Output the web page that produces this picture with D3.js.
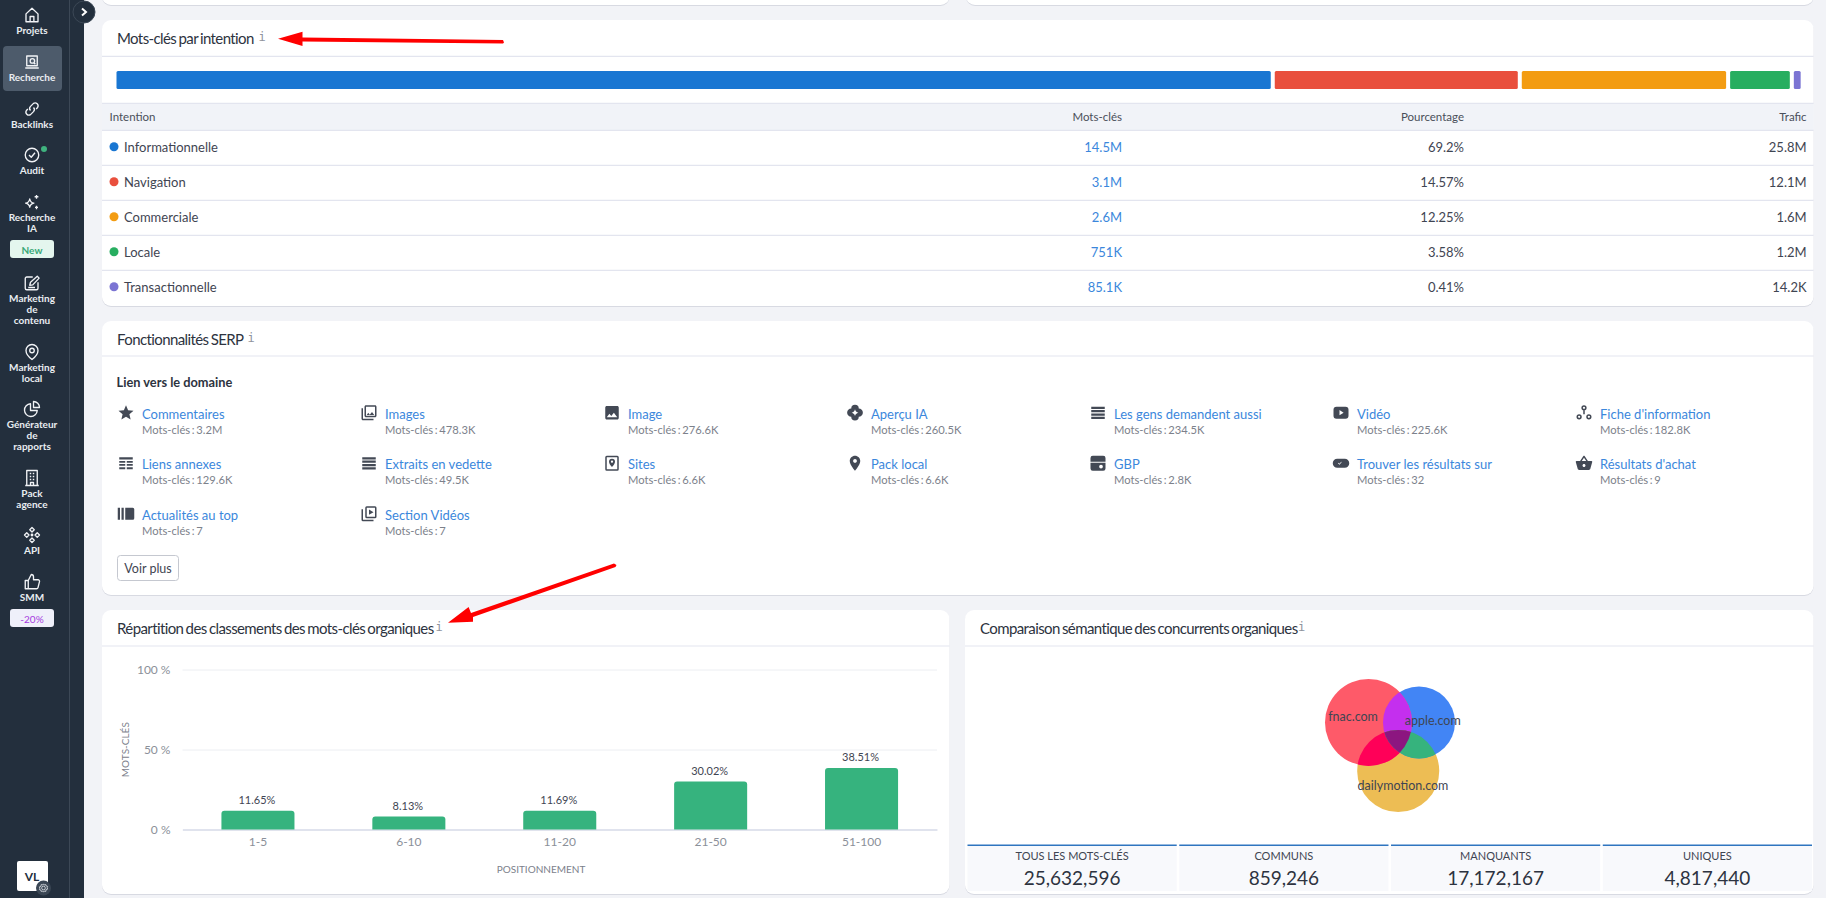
<!DOCTYPE html>
<html>
<head>
<meta charset="utf-8">
<script src="https://cdn.jsdelivr.net/npm/d3@7"></script>
<style>
html, body { margin: 0; padding: 0; background: #f2f3f7; overflow: hidden; }
svg { display: block; font-family: Lato, sans-serif; }
</style>
</head>
<body>
<svg id="page" width="1826" height="898"></svg>
<script>
// intentions
const intentNames = ['Informationnelle', 'Navigation', 'Commerciale', 'Locale', 'Transactionnelle'];
const intentKeywords = ['14.5M', '3.1M', '2.6M', '751K', '85.1K'];
const intentShare = [69.2, 14.57, 12.25, 3.58, 0.41];
const intentTraffic = ['25.8M', '12.1M', '1.6M', '1.2M', '14.2K'];
const intentColors = ['#1976d2', '#e94f3d', '#f39c12', '#27ae60', '#7b74d3'];

// fonctionnalites SERP
const serpNames = ['Commentaires', 'Images', 'Image', 'Aperçu IA', 'Les gens demandent aussi', 'Vidéo', "Fiche d'information",
    'Liens annexes', 'Extraits en vedette', 'Sites', 'Pack local', 'GBP', 'Trouver les résultats sur', "Résultats d'achat",
    'Actualités au top', 'Section Vidéos'];
const serpCounts = ['3.2M', '478.3K', '276.6K', '260.5K', '234.5K', '225.6K', '182.8K',
    '129.6K', '49.5K', '6.6K', '6.6K', '2.8K', '32', '9', '7', '7'];
const serpIcons = ['star', 'images', 'image', 'spark', 'lines', 'video', 'nodes',
    'table', 'lines', 'site', 'pin', 'shop', 'pill', 'basket', 'news', 'videos'];

// classements
const rankBuckets = ['1-5', '6-10', '11-20', '21-50', '51-100'];
const rankShares = [11.65, 8.13, 11.69, 30.02, 38.51];
const rankTicks = [0, 50, 100];

// venn : tailles relatives et recouvrements
const vennNames = ['fnac.com', 'apple.com', 'dailymotion.com'];
const vennSizes = [100, 68.5, 89];
const vennOverlapAB = 66.7;
const vennOverlapAC = 63.4;
const vennOverlapBC = 55.6;

const totalLabels = ['TOUS LES MOTS-CLÉS', 'COMMUNS', 'MANQUANTS', 'UNIQUES'];
const totalValues = ['25,632,596', '859,246', '17,172,167', '4,817,440'];

// menu
const navItems = [
    { icon: 'home', lines: ['Projets'] },
    { icon: 'laptop', lines: ['Recherche'] },
    { icon: 'link', lines: ['Backlinks'] },
    { icon: 'audit', lines: ['Audit'] },
    { icon: 'sparkles', lines: ['Recherche', 'IA'] },
    { icon: 'edit', lines: ['Marketing', 'de', 'contenu'] },
    { icon: 'navpin', lines: ['Marketing', 'local'] },
    { icon: 'pie', lines: ['Générateur', 'de', 'rapports'] },
    { icon: 'building', lines: ['Pack', 'agence'] },
    { icon: 'api', lines: ['API'] },
    { icon: 'thumb', lines: ['SMM'] }
];
const navIconY = [15, 62, 109, 155, 202, 283, 352, 409, 478, 535, 582];

const iconPaths = {
    star: 'M12 17.27L18.18 21l-1.64-7.03L22 9.24l-7.19-.61L12 2 9.19 8.63 2 9.24l5.46 4.73L5.82 21z',
    image: 'M21 19V5c0-1.1-.9-2-2-2H5c-1.1 0-2 .9-2 2v14c0 1.1.9 2 2 2h14c1.1 0 2-.9 2-2zM8.5 13.5l2.5 3.01L14.5 12l4.5 6H5l3.5-4.5z',
    images: 'M22 16V4c0-1.1-.9-2-2-2H8c-1.1 0-2 .9-2 2v12c0 1.1.9 2 2 2h12c1.1 0 2-.9 2-2zM20 16H8V4h12zM11 12l2 2.7L16 11l3 4H9zM2 6v14c0 1.1.9 2 2 2h14v-2H4V6z',
    spark: 'M12 1.5a5 5 0 0 1 5 5 5 5 0 0 1 0 11 5 5 0 0 1-10 0 5 5 0 0 1 0-11 5 5 0 0 1 5-5zM12 7.5C11.5 10 10 11.5 7.5 12 10 12.5 11.5 14 12 16.500 12.500 14 14 12.500 16.500 12 14 11.500 12.500 10 12 7.500z',
    lines: 'M3 4h18v3H3zM3 8.500h18v3H3zM3 13h18v3H3zM3 17.500h18v3H3z',
    video: 'M6 4h12a4 4 0 0 1 4 4v8a4 4 0 0 1-4 4H6a4 4 0 0 1-4-4V8a4 4 0 0 1 4-4zM10 8.500v7l5.500-3.500z',
    nodes: 'M12 2a3.500 3.500 0 1 1 0 7 3.500 3.500 0 0 1 0-7zm0 2a1.500 1.500 0 1 0 0 3 1.500 1.500 0 0 0 0-3zM5.500 14a3.500 3.500 0 1 1 0 7 3.500 3.500 0 0 1 0-7zm0 2a1.500 1.500 0 1 0 0 3 1.500 1.500 0 0 0 0-3zM18.500 14a3.500 3.500 0 1 1 0 7 3.500 3.500 0 0 1 0-7zm0 2a1.500 1.500 0 1 0 0 3 1.500 1.500 0 0 0 0-3zM11 9h2v5h-2z',
    table: 'M3 4h18v3H3zM3 9h8v2.500H3zM13 9h8v2.500h-8zM3 13h8v2.500H3zM13 13h8v2.500h-8zM3 17.500h8V20H3zM13 17.500h8V20h-8z',
    site: 'M5 2h14a2 2 0 0 1 2 2v16a2 2 0 0 1-2 2H5a2 2 0 0 1-2-2V4a2 2 0 0 1 2-2zM5 4v16h14V4zM12 6a4 4 0 0 1 4 4c0 3-4 7-4 7s-4-4-4-7a4 4 0 0 1 4-4zm0 2.500a1.500 1.500 0 1 0 0 3 1.500 1.500 0 0 0 0-3z',
    pin: 'M12 2C8.13 2 5 5.13 5 9c0 5.25 7 13 7 13s7-7.750 7-13c0-3.870-3.130-7-7-7zm0 9.500c-1.380 0-2.500-1.120-2.500-2.500s1.120-2.500 2.500-2.500 2.500 1.120 2.500 2.500-1.120 2.500-2.500 2.500z',
    shop: 'M5 2h14a3 3 0 0 1 3 3v5H2V5a3 3 0 0 1 3-3zM2 11.500h20V19a3 3 0 0 1-3 3H5a3 3 0 0 1-3-3zM16 14a2.500 2.500 0 1 0 0 5 2.500 2.500 0 0 0 0-5z',
    pill: 'M7 6h10a6 6 0 0 1 0 12H7A6 6 0 0 1 7 6zM8 12l2 2 3-3.500-.7-.6L10 12.600l-1.300-1.300z',
    basket: 'M17.210 9l-4.380-6.560c-.19-.28-.51-.42-.83-.42-.32 0-.64.14-.83.43L6.790 9H2c-.55 0-1 .45-1 1 0 .09.01.18.04.27l2.540 9.270c.23.84 1 1.460 1.920 1.460h13c.92 0 1.690-.62 1.930-1.460l2.540-9.270L23 10c0-.55-.45-1-1-1h-4.790zM9 9l3-4.400L15 9H9zm3 8c-1.100 0-2-.9-2-2s.9-2 2-2 2 .9 2 2-.9 2-2 2z',
    news: 'M1 4h3v16H1zM6 4h3v16H6zM11 4h10a2 2 0 0 1 2 2v12a2 2 0 0 1-2 2H11z',
    videos: 'M9 2h11a2 2 0 0 1 2 2v12a2 2 0 0 1-2 2H9a2 2 0 0 1-2-2V4a2 2 0 0 1 2-2zM9 4v12h11V4zM12 6.500l6 3.500-6 3.500zM2 6h2v14h14v2H4a2 2 0 0 1-2-2z'
};
const navPaths = {
    home: 'M4 10.500L12 3l8 7.500V21H4zM9.500 21v-7h5v7',
    laptop: 'M5 4h14v13H5zM3 20h18M12.500 7.500a3 3 0 1 0 0 6 3 3 0 0 0 0-6zM14.500 13l2 2',
    link: 'M10 14a4 4 0 0 1 0-5.500l4-4a4 4 0 0 1 5.500 5.500l-2 2M14 10a4 4 0 0 1 0 5.500l-4 4a4 4 0 0 1-5.500-5.500l2-2',
    audit: 'M12 3a9 9 0 1 0 0 18 9 9 0 0 0 0-18zM8 12l3 3 5-6',
    sparkles: 'M9 8c.6 3.500 2 4.900 5.500 5.500-3.500.6-4.900 2-5.500 5.500-.6-3.500-2-4.900-5.500-5.500C7 12.900 8.400 11.500 9 8zM18 2.500v5M15.500 5h5M18 17v4.500M16 19.200h4',
    edit: 'M13 4H5a2 2 0 0 0-2 2v13a2 2 0 0 0 2 2h13a2 2 0 0 0 2-2v-8M9 15l1-4 9-8 2.500 2.500-8.500 9zM7 18h9',
    navpin: 'M12 2a8 8 0 0 0-8 8c0 6 8 12 8 12s8-6 8-12a8 8 0 0 0-8-8zM12 7a3 3 0 1 0 0 6 3 3 0 0 0 0-6z',
    pie: 'M10 5a8.500 8.500 0 1 0 9 9h-9zM14 2v8h8a8 8 0 0 0-8-8z',
    building: 'M5 2h14v20H5zM3 22h18M9 6h2M13 6h2M9 10h2M13 10h2M9 14h2M13 14h2M10 22v-4h4v4',
    api: 'M12 2l3 3-3 3-3-3zM5 9l3 3-3 3-3-3zM19 9l3 3-3 3-3-3zM12 16l3 3-3 3-3-3zM12 11a1 1 0 1 0 0 2 1 1 0 0 0 0-2z',
    thumb: 'M7 10v11H3V10zM7 10l4-8a3 3 0 0 1 3 3v4h6a2 2 0 0 1 2 2.500l-2 8a2 2 0 0 1-2 1.500H7',
    gear: 'M12 8a4 4 0 1 0 0 8 4 4 0 0 0 0-8zM12 3l2 2.500 3-1 .8 3.200 3.200.8-1 3 1 3-3.200.8L17 19.500l-3-1L12 21l-2-2.500-3 1-.8-3.200L3 15.500l1-3-1-3 3.200-.8L7 4.500l3 1z'
};

const svg = d3.select('#page');
const inkColor = '#3f4552';
const linkColor = '#3b87dc';
const muted = '#8b9099';
const lineColor = '#e3e5ef';

function label(parent, x, y, str, size, color, anchor, weight) {
    return parent.append('text')
        .attr('x', x).attr('y', y)
        .attr('dominant-baseline', 'central')
        .attr('text-anchor', anchor || 'start')
        .attr('font-size', size)
        .attr('font-weight', weight || 400)
        .attr('fill', color)
        .text(str);
}

function card(x, y, w, h) {
    svg.append('rect').attr('x', x).attr('y', y + 1).attr('width', w).attr('height', h)
        .attr('rx', 9).attr('fill', '#d8dae2');
    svg.append('rect').attr('x', x).attr('y', y).attr('width', w).attr('height', h)
        .attr('rx', 9).attr('fill', '#fff');
}

function cardHeader(x, y, w, h, title, infoX) {
    label(svg, x + 15, y + 18, title, 15, '#2d3340').attr('letter-spacing', -0.6).attr('word-spacing', -1);
    label(svg, infoX, y + 16.5, 'i', 12, '#8f939c', 'middle').attr('font-family', 'DejaVu Sans Mono');
    svg.append('line').attr('x1', x).attr('x2', x + w).attr('y1', y + h).attr('y2', y + h)
        .attr('stroke', lineColor).attr('stroke-width', 1.2);
}

function icon(parent, name, cx, cy, size) {
    parent.append('path')
        .attr('d', iconPaths[name])
        .attr('transform', `translate(${cx - size / 2},${cy - size / 2}) scale(${size / 24})`)
        .attr('fill', '#434955')
        .attr('fill-rule', 'evenodd');
}

function navIcon(name, cx, cy, size, color) {
    svg.append('path')
        .attr('d', navPaths[name])
        .attr('transform', `translate(${cx - size / 2},${cy - size / 2}) scale(${size / 24})`)
        .attr('fill', 'none')
        .attr('stroke', color || '#f1f3f6')
        .attr('stroke-width', 1.8)
        .attr('stroke-linejoin', 'round');
}

// ---- menu lateral
function drawSidebar() {
    const centerX = 32;
    svg.append('rect').attr('width', 84).attr('height', 898).attr('fill', '#232f3d');
    svg.append('line').attr('x1', 69.5).attr('x2', 69.5).attr('y1', 0).attr('y2', 898).attr('stroke', '#3c4856');
    svg.append('rect').attr('x', 3).attr('y', 46).attr('width', 59).attr('height', 45).attr('rx', 4).attr('fill', '#4d5b6b');

    navItems.forEach((item, i) => {
        navIcon(item.icon, centerX, navIconY[i], 18);
        item.lines.forEach((line, j) => {
            label(svg, centerX, navIconY[i] + 15.4 + j * 11, line, 10, '#e9edf1', 'middle', 700);
        });
    });

    svg.append('circle').attr('cx', 44).attr('cy', 149).attr('r', 3).attr('fill', '#3fb37f');
    svg.append('rect').attr('x', 10).attr('y', 240).attr('width', 44).attr('height', 18).attr('rx', 3).attr('fill', '#e4f6ee');
    label(svg, centerX, 249.5, 'New', 10, '#38a877', 'middle', 700);
    svg.append('rect').attr('x', 10).attr('y', 609).attr('width', 44).attr('height', 18).attr('rx', 3).attr('fill', '#eff0fa');
    label(svg, centerX, 618.5, '-20%', 10, '#a63be0', 'middle');

    svg.append('rect').attr('x', 17).attr('y', 861).attr('width', 31).attr('height', 30).attr('rx', 2).attr('fill', '#fff');
    label(svg, centerX, 876, 'VL', 12, '#232f3d', 'middle', 700);
    svg.append('circle').attr('cx', 43.5).attr('cy', 888).attr('r', 7.5).attr('fill', '#3a4654');
    navIcon('gear', 43.5, 888, 11, '#dfe3e8');

    svg.append('circle').attr('cx', 84).attr('cy', 12).attr('r', 11).attr('fill', '#232f3d').attr('stroke', '#3c4856');
    svg.append('path').attr('d', 'M82 8.500l4 3.500-4 3.500').attr('fill', 'none').attr('stroke', '#fff').attr('stroke-width', 2);
}

// ---- mots-cles par intention
function drawIntentCard() {
    const left = 102, width = 1711.6, top = 20;
    card(left, top, width, 286);
    cardHeader(left, top, width, 36.3, 'Mots-clés par intention', 262);

    // la barre empilee : les ecarts se rajoutent a la largeur utile
    const barX = d3.scaleLinear().domain([0, 100]).range([0, 1668]);
    const gap = 4;
    let cum = 0;
    const stacked = intentShare.map((v, i) => {
        const d = { i: i, start: cum, value: v };
        cum += v;
        return d;
    });
    svg.append('g').selectAll('rect').data(stacked).join('rect')
        .attr('x', d => 116.5 + barX(d.start) + d.i * gap)
        .attr('y', 71)
        .attr('width', d => barX(d.value))
        .attr('height', 18)
        .attr('rx', 1.5)
        .attr('fill', d => intentColors[d.i]);

    // tableau
    svg.append('rect').attr('x', left).attr('y', 103.3).attr('width', width).attr('height', 27).attr('fill', '#f1f3f8');
    [103.3, 130.3].forEach(y => {
        svg.append('line').attr('x1', left).attr('x2', left + width).attr('y1', y).attr('y2', y).attr('stroke', lineColor).attr('stroke-width', 1.2);
    });
    const head = '#4a4f5a';
    label(svg, 109.5, 116.7, 'Intention', 11.5, head);
    label(svg, 1122, 116.7, 'Mots-clés', 11.5, head, 'end');
    label(svg, 1464, 116.7, 'Pourcentage', 11.5, head, 'end');
    label(svg, 1806.6, 116.7, 'Trafic', 11.5, head, 'end');

    const rowY = d3.scaleBand().domain(intentNames).range([130.3, 305.3]);
    intentNames.forEach((name, i) => {
        const y = rowY(name) + rowY.bandwidth() / 2;
        svg.append('circle').attr('cx', 114).attr('cy', y - 1).attr('r', 4.5).attr('fill', intentColors[i]);
        label(svg, 124, y - 0.6, name, 13, inkColor);
        label(svg, 1122, y - 0.6, intentKeywords[i], 13, linkColor, 'end');
        label(svg, 1464, y - 0.6, intentShare[i] + '%', 13, inkColor, 'end');
        label(svg, 1806.6, y - 0.6, intentTraffic[i], 13, inkColor, 'end');
        if (i < intentNames.length - 1) {
            svg.append('line').attr('x1', left).attr('x2', left + width)
                .attr('y1', rowY(name) + rowY.bandwidth()).attr('y2', rowY(name) + rowY.bandwidth())
                .attr('stroke', lineColor).attr('stroke-width', 1.2);
        }
    });

    // fleche rouge
    svg.append('path').attr('d', 'M278 38.700L302.500 31.700 302.500 37.500 503 40 504 42.500 503 43.500 302.500 41.500 302.500 46Z').attr('fill', '#f00');
}

// ---- fonctionnalites SERP
function drawSerpCard() {
    const left = 102, width = 1711.6, top = 321;
    card(left, top, width, 274);
    cardHeader(left, top, width, 35, 'Fonctionnalités SERP', 251);
    label(svg, 116.5, 381.7, 'Lien vers le domaine', 12.8, '#2d3340', 'start', 700);

    const colX = d3.scaleLinear().domain([0, 6]).range([142, 1600]);
    const rowY = d3.scaleLinear().domain([0, 2]).range([413.7, 514.7]);
    serpNames.forEach((name, i) => {
        const x = colX(i % 7), y = rowY(Math.floor(i / 7));
        icon(svg, serpIcons[i], x - 16, y - 1, 18);
        label(svg, x, y, name, 13, linkColor);
        label(svg, x, y + 15.5, 'Mots-clés : ' + serpCounts[i], 11.2, '#7c818b').attr('word-spacing', -1.2);
    });

    svg.append('rect').attr('x', 117.5).attr('y', 555.5).attr('width', 61).attr('height', 25).attr('rx', 3)
        .attr('fill', '#fff').attr('stroke', '#c5c8d0');
    label(svg, 148, 568, 'Voir plus', 12.5, inkColor, 'middle');
}

// ---- repartition des classements
function drawRankCard() {
    const left = 102, width = 847.5, top = 610;
    card(left, top, width, 284);
    cardHeader(left, top, width, 36, 'Répartition des classements des mots-clés organiques', 439);

    const plot = { left: 182.5, right: 937, top: 669.5, bottom: 829.5 };
    const y = d3.scaleLinear().domain([0, 100]).range([plot.bottom, plot.top]);
    const x = d3.scaleBand().domain(rankBuckets).range([plot.left, plot.right])
        .paddingInner(0.516).paddingOuter(0.258);

    const yAxis = d3.axisLeft(y).tickValues(rankTicks).tickFormat(d => d + ' %')
        .tickSize(-(plot.right - plot.left)).tickPadding(12);
    const yG = svg.append('g').attr('transform', `translate(${plot.left},0)`).call(yAxis);
    yG.select('.domain').remove();
    yG.selectAll('line').attr('stroke', '#eceef2');
    yG.selectAll('text').attr('font-size', 12).attr('font-family', 'Lato').attr('fill', muted);

    const xAxis = d3.axisBottom(x).tickSize(0).tickPadding(8);
    const xG = svg.append('g').attr('transform', `translate(0,${plot.bottom})`).call(xAxis);
    xG.select('.domain').attr('stroke', '#d9dcea').attr('stroke-width', 1.5);
    xG.selectAll('text').attr('font-size', 12).attr('font-family', 'Lato').attr('fill', muted);

    // barres arrondies seulement en haut
    svg.append('g').selectAll('path').data(rankShares).join('path')
        .attr('d', (d, i) => {
            const x0 = x(rankBuckets[i]), w = x.bandwidth(), y0 = y(d), r = 3;
            return `M${x0},${plot.bottom}V${y0 + r}Q${x0},${y0} ${x0 + r},${y0}H${x0 + w - r}Q${x0 + w},${y0} ${x0 + w},${y0 + r}V${plot.bottom}Z`;
        })
        .attr('fill', '#36b37e');

    rankShares.forEach((d, i) => {
        label(svg, x(rankBuckets[i]) + x.bandwidth() / 2 - 1, y(d) - 11, d + '%', 11, inkColor, 'middle');
    });

    label(svg, 541, 869, 'POSITIONNEMENT', 10, '#7c818b', 'middle');
    label(svg, 0, 0, 'MOTS-CLÉS', 10, '#7c818b', 'middle')
        .attr('transform', 'translate(125,749.7) rotate(-90)');

    svg.append('path').attr('d', 'M448 622.700L468.600 607 471 613 614 563.500 616.500 565 615.500 567 473 617 473 621.700Z').attr('fill', '#f00');
}

// ---- comparaison semantique
function drawVennCard() {
    const left = 965, width = 848.6, top = 610;
    card(left, top, width, 284);
    cardHeader(left, top, width, 36, 'Comparaison sémantique des concurrents organiques', 1301.6);

    const radius = d3.scaleSqrt().domain([0, 100]).range([0, 43.5]);
    const depth = d3.scaleLinear().domain([0, 100]).range([0, 43.5]);
    const r = vennSizes.map(radius);
    // distances entre centres deduites des recouvrements
    const dAB = r[0] + r[1] - depth(vennOverlapAB);
    const dAC = r[0] + r[2] - depth(vennOverlapAC);
    const dBC = r[1] + r[2] - depth(vennOverlapBC);
    const originX = 1368.5, originY = 722.4;
    const cx3 = (dAC * dAC - dBC * dBC + dAB * dAB) / (2 * dAB);
    const cy3 = Math.sqrt(dAC * dAC - cx3 * cx3);
    const centers = [[originX, originY], [originX + dAB, originY], [originX + cx3, originY + cy3]];

    const defs = svg.append('defs');
    vennNames.forEach((n, i) => {
        defs.append('clipPath').attr('id', 'clip' + i).append('circle')
            .attr('cx', centers[i][0]).attr('cy', centers[i][1]).attr('r', r[i]);
    });
    const disc = (parent, i, color) => parent.append('circle')
        .attr('cx', centers[i][0]).attr('cy', centers[i][1]).attr('r', r[i]).attr('fill', color);

    const g = svg.append('g');
    disc(g, 2, '#edbd54');
    disc(g, 1, '#4285f5');
    disc(g, 0, '#fe5a69');
    disc(g, 1, '#c42fee').attr('clip-path', 'url(#clip0)');
    disc(g, 2, '#ff0058').attr('clip-path', 'url(#clip0)');
    disc(g, 2, '#36b37d').attr('clip-path', 'url(#clip1)');
    disc(g.append('g').attr('clip-path', 'url(#clip0)'), 2, '#8c1680').attr('clip-path', 'url(#clip1)');

    label(svg, 1353, 716, vennNames[0], 12.5, inkColor, 'middle');
    label(svg, 1432.7, 720.7, vennNames[1], 12.5, inkColor, 'middle');
    label(svg, 1403, 785.3, vennNames[2], 12.5, inkColor, 'middle');

    const tile = d3.scaleBand().domain(totalLabels).range([967.5, 1812]).paddingInner(0.012);
    totalLabels.forEach((name, i) => {
        const x0 = tile(name), w = tile.bandwidth();
        svg.append('rect').attr('x', x0).attr('y', 845).attr('width', w).attr('height', 46).attr('fill', '#f8f9fc');
        svg.append('rect').attr('x', x0).attr('y', 844.500).attr('width', w).attr('height', 1.5).attr('fill', '#2f75bf');
        label(svg, x0 + w / 2, 855.7, name, 11, inkColor, 'middle');
        label(svg, x0 + w / 2, 877, totalValues[i], 19, '#2d3340', 'middle');
    });
}

// les deux cartes du haut, coupees par le bord de la page
card(102, -30, 847.5, 35);
card(966, -30, 847.6, 35);
drawSidebar();
drawIntentCard();
drawSerpCard();
drawRankCard();
drawVennCard();
</script>
</body>
</html>
